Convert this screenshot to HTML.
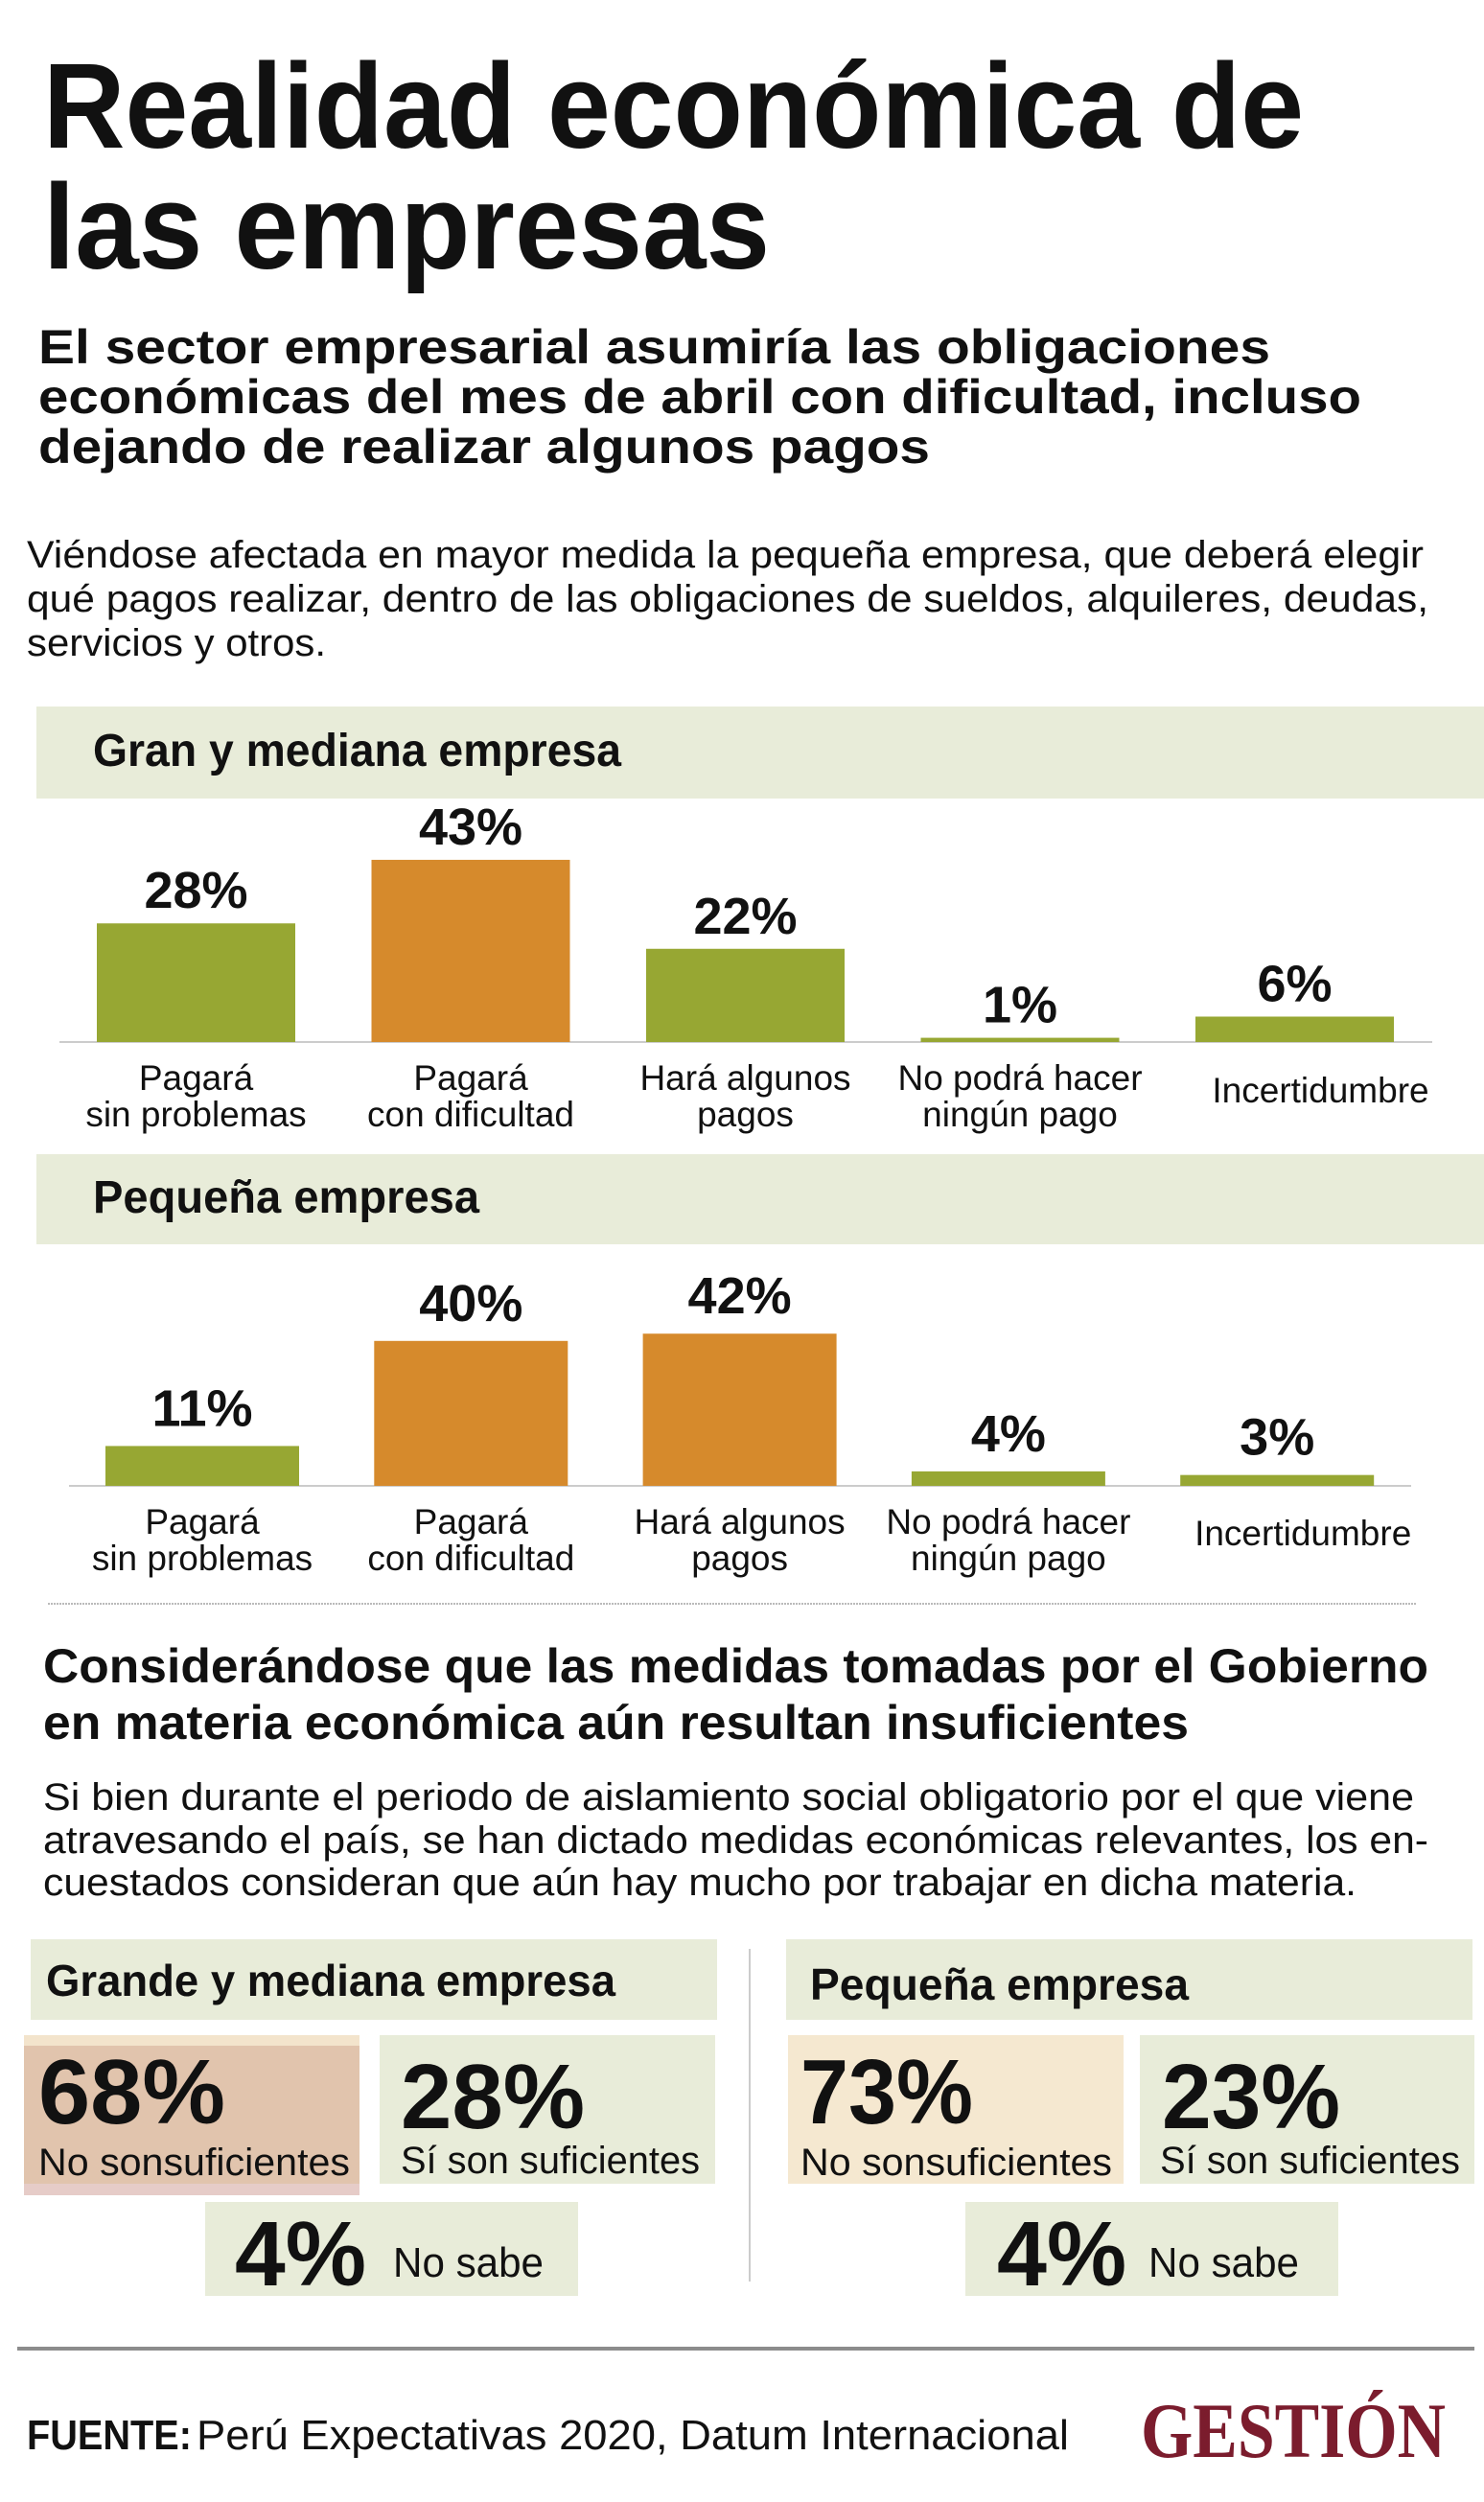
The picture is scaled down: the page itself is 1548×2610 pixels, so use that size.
<!DOCTYPE html>
<html><head><meta charset="utf-8">
<style>
html,body{margin:0;padding:0;background:#fff;}
svg{display:block;}
text{font-family:"Liberation Sans",sans-serif;fill:#111;}
.b{font-weight:bold;}
</style></head>
<body>
<svg id="root" width="1548" height="2610" viewBox="0 0 1548 2610" xmlns="http://www.w3.org/2000/svg">
<rect x="0" y="0" width="1548" height="2610" fill="#fff"/>
<!-- Title -->
<g>
<text class="b" x="45" y="154" font-size="126" textLength="1315" lengthAdjust="spacingAndGlyphs">Realidad económica de</text>
<text class="b" x="45" y="280" font-size="126" textLength="758" lengthAdjust="spacingAndGlyphs">las empresas</text>
</g>
<g>
<text class="b" x="40" y="379" font-size="50" textLength="1285" lengthAdjust="spacingAndGlyphs">El sector empresarial asumiría las obligaciones</text>
<text class="b" x="40" y="431" font-size="50" textLength="1380" lengthAdjust="spacingAndGlyphs">económicas del mes de abril con dificultad, incluso</text>
<text class="b" x="40" y="483" font-size="50" textLength="930" lengthAdjust="spacingAndGlyphs">dejando de realizar algunos pagos</text>
</g>
<g>
<text x="28" y="592" font-size="40" textLength="1457" lengthAdjust="spacingAndGlyphs">Viéndose afectada en mayor medida la pequeña empresa, que deberá elegir</text>
<text x="28" y="638" font-size="40" textLength="1462" lengthAdjust="spacingAndGlyphs">qué pagos realizar, dentro de las obligaciones de sueldos, alquileres, deudas,</text>
<text x="28" y="684" font-size="40" textLength="312" lengthAdjust="spacingAndGlyphs">servicios y otros.</text>
</g>

<!-- Chart 1 -->
<rect x="38" y="737" width="1510" height="96" fill="#e8ecd9"/>
<text class="b" x="97" y="799" font-size="48" textLength="551" lengthAdjust="spacingAndGlyphs">Gran y mediana empresa</text>
<line x1="62" y1="1087" x2="1494" y2="1087" stroke="#ccc" stroke-width="2"/>
<g id="chart1"></g>

<!-- Chart 2 -->
<rect x="38" y="1204" width="1510" height="94" fill="#e8ecd9"/>
<text class="b" x="97" y="1265" font-size="48" textLength="403" lengthAdjust="spacingAndGlyphs">Pequeña empresa</text>
<line x1="72" y1="1550" x2="1472" y2="1550" stroke="#ccc" stroke-width="2"/>
<g id="chart2"></g>
<line x1="50" y1="1673" x2="1478" y2="1673" stroke="#bbb" stroke-width="2" stroke-dasharray="2,1"/>

<!-- Section 2 -->
<g>
<text class="b" x="45" y="1755" font-size="50" textLength="1445" lengthAdjust="spacingAndGlyphs">Considerándose que las medidas tomadas por el Gobierno</text>
<text class="b" x="45" y="1814" font-size="50" textLength="1195" lengthAdjust="spacingAndGlyphs">en materia económica aún resultan insuficientes</text>
</g>
<g>
<text x="45" y="1888" font-size="40" textLength="1430" lengthAdjust="spacingAndGlyphs">Si bien durante el periodo de aislamiento social obligatorio por el que viene</text>
<text x="45" y="1933" font-size="40" textLength="1445" lengthAdjust="spacingAndGlyphs">atravesando el país, se han dictado medidas económicas relevantes, los en-</text>
<text x="45" y="1977" font-size="40" textLength="1370" lengthAdjust="spacingAndGlyphs">cuestados consideran que aún hay mucho por trabajar en dicha materia.</text>
</g>

<rect x="32" y="2023" width="716" height="84" fill="#e8ecd9"/>
<text class="b" x="48" y="2082" font-size="46" textLength="594" lengthAdjust="spacingAndGlyphs">Grande y mediana empresa</text>
<rect x="820" y="2023" width="716" height="84" fill="#e8ecd9"/>
<text class="b" x="845" y="2086" font-size="46" textLength="395" lengthAdjust="spacingAndGlyphs">Pequeña empresa</text>
<line x1="782" y1="2033" x2="782" y2="2380" stroke="#ccc" stroke-width="2"/>

<g>
<rect x="25" y="2123" width="350" height="12" fill="#f3e4cc"/>
<rect x="25" y="2134" width="350" height="156" fill="#e1c4ad"/>
<rect x="25" y="2278" width="350" height="12" fill="#e6ccc8"/>
<text class="b" x="40" y="2215" font-size="96" textLength="195" lengthAdjust="spacingAndGlyphs">68%</text>
<text x="40" y="2269" font-size="40" textLength="325" lengthAdjust="spacingAndGlyphs">No sonsuficientes</text>
</g>
<g>
<rect x="396" y="2123" width="350" height="155" fill="#e8ecd9"/>
<text class="b" x="418" y="2220" font-size="96" textLength="192" lengthAdjust="spacingAndGlyphs">28%</text>
<text x="418" y="2267" font-size="40" textLength="312" lengthAdjust="spacingAndGlyphs">Sí son suficientes</text>
</g>
<g>
<rect x="214" y="2297" width="389" height="98" fill="#e8ecd9"/>
<text class="b" x="245" y="2384" font-size="96" textLength="137" lengthAdjust="spacingAndGlyphs">4%</text>
<text x="410" y="2375" font-size="44" textLength="157" lengthAdjust="spacingAndGlyphs">No sabe</text>
</g>
<g>
<rect x="822" y="2123" width="350" height="155" fill="#f5e8d0"/>
<text class="b" x="835" y="2215" font-size="96" textLength="180" lengthAdjust="spacingAndGlyphs">73%</text>
<text x="835" y="2269" font-size="40" textLength="325" lengthAdjust="spacingAndGlyphs">No sonsuficientes</text>
</g>
<g>
<rect x="1189" y="2123" width="349" height="155" fill="#e8ecd9"/>
<text class="b" x="1212" y="2220" font-size="96" textLength="186" lengthAdjust="spacingAndGlyphs">23%</text>
<text x="1210" y="2267" font-size="40" textLength="313" lengthAdjust="spacingAndGlyphs">Sí son suficientes</text>
</g>
<g>
<rect x="1007" y="2297" width="389" height="98" fill="#e8ecd9"/>
<text class="b" x="1040" y="2384" font-size="96" textLength="135" lengthAdjust="spacingAndGlyphs">4%</text>
<text x="1198" y="2375" font-size="44" textLength="157" lengthAdjust="spacingAndGlyphs">No sabe</text>
</g>

<line x1="18" y1="2450" x2="1538" y2="2450" stroke="#8c8c8c" stroke-width="4"/>
<text x="28" y="2555" font-size="44"><tspan class="b" font-weight="bold" textLength="172" lengthAdjust="spacingAndGlyphs">FUENTE:</tspan><tspan x="205" textLength="910" lengthAdjust="spacingAndGlyphs">Perú Expectativas 2020, Datum Internacional</tspan></text>
<text x="1190" y="2563" font-size="82" font-weight="bold" style="font-family:'Liberation Serif',serif;fill:#7b1c2d" textLength="318" lengthAdjust="spacingAndGlyphs">GESTIÓN</text>
</svg>
<script>
var categories1 = [["Pagará","sin problemas"],["Pagará","con dificultad"],["Hará algunos","pagos"],["No podrá hacer","ningún pago"],["Incertidumbre"]];
var values1 = [28, 43, 22, 1, 6];
var values2 = [11, 40, 42, 4, 3];
var difficult1 = [0, 1, 0, 0, 0];
var difficult2 = [0, 1, 1, 0, 0];

var NS = "http://www.w3.org/2000/svg";
function mk(tag, attrs){var e=document.createElementNS(NS,tag);for(var k in attrs)e.setAttribute(k,attrs[k]);return e;}
function drawChart(gid, vals, flags, cfg){
  var g=document.getElementById(gid);
  var y=function(v){return cfg.base - v*cfg.pxPer;};
  var x=function(i){return cfg.x0 + i*cfg.step;};
  for(var i=0;i<vals.length;i++){
    var r=mk("rect",{x:x(i),y:y(vals[i]),width:cfg.w,height:cfg.base-y(vals[i]),fill:flags[i]?"#d68a2c":"#97a733"});
    
    
    g.appendChild(r);
    var cx=x(i)+cfg.w/2;
    var t=mk("text",{x:cx,y:y(vals[i])-cfg.gap,"font-size":54,"font-weight":"bold","text-anchor":"middle"});
    t.textContent=vals[i]+"%";
    
    
    g.appendChild(t);
    var lines=categories1[i];
    var single=lines.length===1;
    for(var j=0;j<lines.length;j++){
      var l=mk("text",{x:single?cx+27:cx,y:single?cfg.single:(cfg.l1+j*38),"font-size":37,"text-anchor":"middle"});
      l.textContent=lines[j];
      
      
      g.appendChild(l);
    }
  }
}
drawChart("chart1", values1, difficult1, {base:1087,pxPer:4.42,x0:101,step:286.5,w:207,gap:16,l1:1137,single:1150});
drawChart("chart2", values2, difficult2, {base:1550,pxPer:3.78,x0:110,step:280.3,w:202,gap:21,l1:1600,single:1612});
</script>
</body></html>
